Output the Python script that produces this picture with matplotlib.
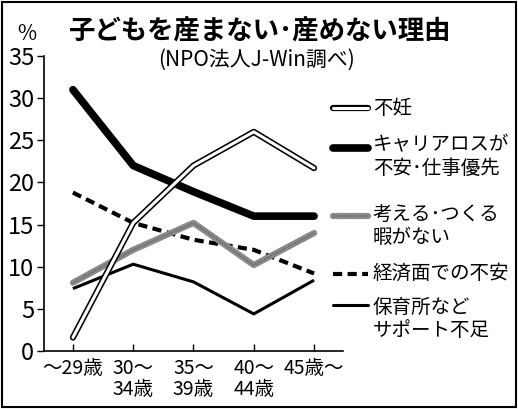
import matplotlib
matplotlib.use("Agg")
import matplotlib.pyplot as plt
from matplotlib.lines import Line2D
from matplotlib.patches import Rectangle

plt.rcParams['font.family'] = ['Noto Sans CJK JP', 'DejaVu Sans']

age_groups = ["〜29歳", "30〜\n34歳", "35〜\n39歳", "40〜\n44歳", "45歳〜"]
infertility = [1.6, 15.2, 22.0, 26.0, 21.7]
career = [31.0, 22.0, 18.9, 16.0, 16.0]
no_time = [8.1, 12.0, 15.2, 10.2, 14.0]
economic = [18.8, 15.2, 13.2, 12.0, 9.2]
childcare = [7.4, 10.3, 8.2, 4.4, 8.4]
yticks = [0, 5, 10, 15, 20, 25, 30, 35]

W, H = 518, 409
fig = plt.figure(figsize=(W / 100, H / 100), dpi=100)
ax = fig.add_axes([44 / W, 1 - 351 / H, (343 - 44) / W, (351 - 56) / H])

x = range(len(age_groups))
ax.plot(x, childcare, color="black", lw=2.2, solid_capstyle="butt")
ax.plot(x, economic, color="black", lw=3, linestyle=(0, (2.2, 1.3)))
ax.plot(x, no_time, color="#8a8a8a", lw=4.5, solid_capstyle="round")
ax.plot(x, no_time, color="#5a5a5a", lw=1.2, linestyle=(0, (0.6, 0.9)))
ax.plot(x, career, color="black", lw=5.5, solid_capstyle="round")
ax.plot(x, infertility, color="black", lw=4.5, solid_capstyle="round")
ax.plot(x, infertility, color="white", lw=2.2, solid_capstyle="round")

ax.set_xlim(-0.48, 4.48)
ax.set_ylim(0, 35)
ax.set_yticks(yticks)
ax.set_xticks(list(x))
ax.set_xticklabels(age_groups, fontsize=14, linespacing=1.0)
ax.tick_params(axis="y", direction="out", length=5, width=1, labelsize=17, pad=2)
ax.tick_params(axis="x", direction="in", length=5, width=1, pad=5)
for s in ["top", "right"]:
    ax.spines[s].set_visible(False)
for s in ["left", "bottom"]:
    ax.spines[s].set_linewidth(1.2)

fig.text(260 / W, 1 - 32 / H, "子どもを産まない･産めない理由", fontsize=19,
         fontweight="bold", ha="center", va="center")
fig.text(257 / W, 1 - 60 / H, "(NPO法人J-Win調べ)", fontsize=15,
         ha="center", va="center")
fig.text(27 / W, 1 - 34 / H, "%", fontsize=15, ha="center", va="center")

# legend drawn by hand
hx0, hx1, tx = 333 / W, 368 / W, 373 / W
entries = [
    (108, 108, ["不妊"], [dict(color="black", lw=4.5), dict(color="white", lw=2.2)]),
    (148, 145, ["キャリアロスが", "不安･仕事優先"], [dict(color="black", lw=5.5)]),
    (216, 214, ["考える･つくる", "暇がない"], [dict(color="#8a8a8a", lw=4.5),
                                          dict(color="#5a5a5a", lw=1.2, linestyle=(0, (0.6, 0.9)))]),
    (274, 273, ["経済面での不安"], [dict(color="black", lw=3, linestyle=(0, (2.2, 1.3)))]),
    (305, 307, ["保育所など", "サポート不足"], [dict(color="black", lw=2.2)]),
]
for hy, ty, lines, styles in entries:
    for st in styles:
        fig.add_artist(Line2D([hx0, hx1], [1 - hy / H, 1 - hy / H],
                              transform=fig.transFigure, solid_capstyle="round", **st))
    for i, t in enumerate(lines):
        fig.text(tx, 1 - (ty + i * 23) / H, t, fontsize=14, ha="left", va="center")

fig.add_artist(Rectangle((2 / W, 2 / H), (W - 4) / W, (H - 4) / H, transform=fig.transFigure,
                         fill=False, edgecolor="black", lw=1.5))

fig.savefig("out.png", dpi=100)
